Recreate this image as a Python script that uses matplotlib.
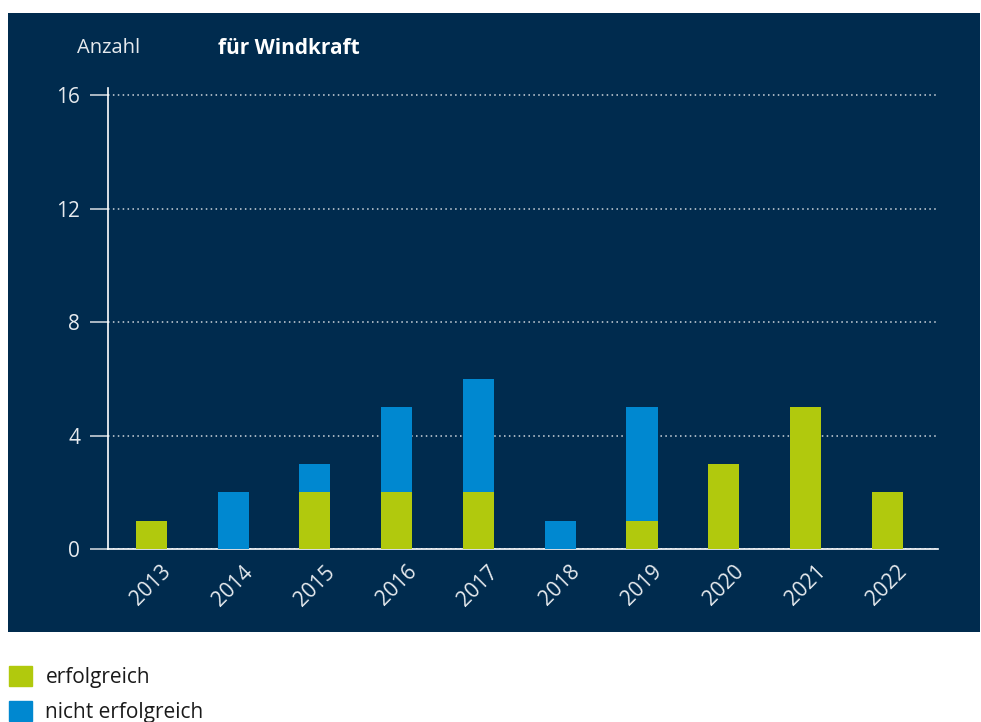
import matplotlib.pyplot as plt
import matplotlib.patches as mpatches
import numpy as np

plt.rcParams['font.family'] = ['Open Sans', 'DejaVu Sans']

years = ['2013', '2014', '2015', '2016', '2017', '2018', '2019', '2020', '2021', '2022']
erfolgreich = [1, 0, 2, 2, 2, 0, 1, 3, 5, 2]
nicht_erfolgreich = [0, 2, 1, 3, 4, 1, 4, 0, 0, 0]
yticks = [0, 4, 8, 12, 16]

navy = '#002b4e'
green = '#b1c90d'
blue = '#0088d0'
light = '#e6eaee'

fig = plt.figure(figsize=(9.81, 7.22), dpi=100)
fig.patch.set_facecolor('white')

# dunkler Hintergrundkasten
bg = mpatches.Rectangle((8 / 981, 90 / 722), 972 / 981, 619 / 722,
                        transform=fig.transFigure, facecolor=navy,
                        edgecolor='none', zorder=-1)
fig.patches.append(bg)

ax = fig.add_axes([108 / 981, 173 / 722, 830 / 981, 461 / 722])
ax.set_facecolor('none')
ax.set_zorder(1)

x = np.arange(len(years))
w = 0.38
ax.bar(x, erfolgreich, width=w, color=green, zorder=3)
ax.bar(x, nicht_erfolgreich, width=w, bottom=erfolgreich, color=blue, zorder=3)

ax.set_xlim(-0.53, 9.62)
ax.set_ylim(0, 16.25)
ax.set_yticks(yticks)
ax.set_xticks(x)
ax.set_xticklabels(years, rotation=45, ha='center')

ax.tick_params(axis='y', length=13, width=1.2, color='#c9d0d8', pad=7,
               labelcolor=light, labelsize=15)
ax.tick_params(axis='x', length=0, pad=9, labelcolor=light, labelsize=15)

for s in ['top', 'right']:
    ax.spines[s].set_visible(False)
for s in ['left', 'bottom']:
    ax.spines[s].set_color('white')
    ax.spines[s].set_linewidth(1.2)

ax.yaxis.grid(True, color='#d0d6dd', linestyle=(0, (1, 2.2)), linewidth=1.1, zorder=1)
ax.set_axisbelow(True)

fig.text(77 / 981, 1 - 48 / 722, 'Anzahl', color=light, fontsize=14.5, va='center')
fig.text(218 / 981, 1 - 48 / 722, 'für Windkraft', color='white', fontsize=15,
         fontweight='bold', va='center')

handles = [mpatches.Patch(color=green, label='erfolgreich'),
           mpatches.Patch(color=blue, label='nicht erfolgreich')]
fig.legend(handles=handles, loc='upper left', bbox_to_anchor=(9 / 981, 1 - 666 / 722),
           frameon=False, fontsize=15, handlelength=1.1, handleheight=1.1,
           handletextpad=0.65, labelspacing=0.6, borderpad=0, borderaxespad=0,
           labelcolor='#1a1a1a')

fig.savefig('out.png', dpi=100, facecolor='white')
